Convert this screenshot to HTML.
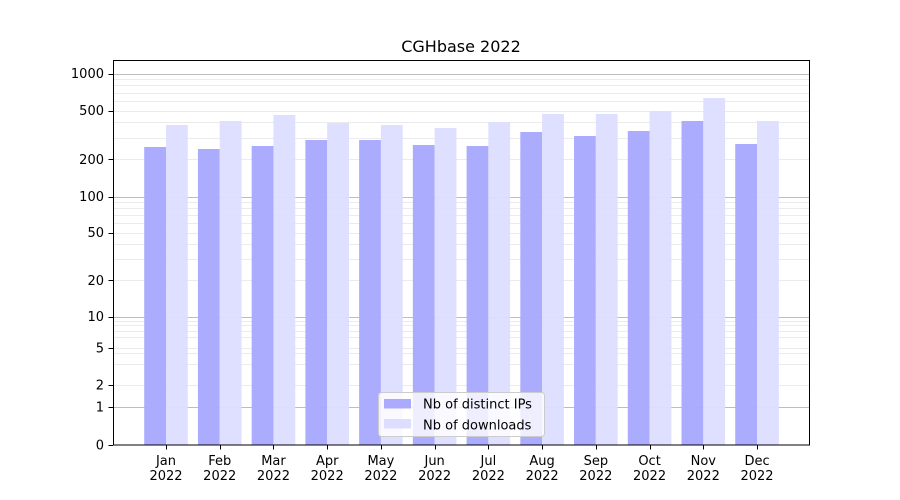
<!DOCTYPE html>
<html><head><meta charset="utf-8"><style>
html,body{margin:0;padding:0;background:#fff;}
svg{display:block;font-family:"DejaVu Sans","Liberation Sans",sans-serif;}
</style></head><body>
<svg id="s" width="900" height="500" viewBox="0 0 900 500" xmlns="http://www.w3.org/2000/svg">
<rect width="900" height="500" fill="#fff"/>
<g id="grid"></g>
<g id="bars"></g>
<rect x="113.5" y="60.5" width="696" height="384.5" fill="none" stroke="#000" stroke-width="1"/>
<g id="ticks" font-size="13" fill="#000"></g>
<text x="461" y="52" font-size="16" text-anchor="middle">CGHbase 2022</text>
<g>
<rect x="378.5" y="392.5" width="166" height="44" rx="3" fill="#fff" fill-opacity="0.8" stroke="#ccc"/>
<rect x="384" y="399" width="27" height="9.5" fill="#aaaaff"/>
<rect x="384" y="419" width="27" height="9.5" fill="#ddddff"/>
<text x="423" y="408.5" font-size="13">Nb of distinct IPs</text>
<text x="423" y="429.5" font-size="13">Nb of downloads</text>
</g>
</svg>
<script>
const NS="http://www.w3.org/2000/svg";
function el(p,t,a,txt){const e=document.createElementNS(NS,t);for(const k in a)e.setAttribute(k,a[k]);if(txt!=null)e.textContent=txt;p.appendChild(e);return e;}
function y(v){
 if(v<=0)return 445;
 if(v<=1)return 445-38*v;
 if(v<=10){const m={1:407,2:385,5:348,10:316.5};if(m[v])return m[v];return 407-Math.log10(v)*90.5*(1+0.0);}
 if(v<=100)return 316.5-Math.log10(v/10)*120;
 return 196.5-Math.log10(v/100)*123;
}
const g=document.getElementById('grid');
// minor
const minors=[];
for(let d of [1,10,100])for(let k=2;k<=9;k++)minors.push(k*d);
minors.forEach(v=>{const yy=Math.round(y(v))+0.5;el(g,'line',{x1:113,x2:810,y1:yy,y2:yy,stroke:'#ebebeb','stroke-width':1});});
[1,10,100,1000].forEach(v=>{const yy=Math.round(y(v))+0.5;el(g,'line',{x1:113,x2:810,y1:yy,y2:yy,stroke:'#bdbdbd','stroke-width':1});});
// bars (pixel tops measured)
const ip=[147,149,146,140,140,145,146,132,136,131,121,144];
const dl=[125,121,115,123,125,128,122,114,114,111,98,121];
const b=document.getElementById('bars');
const months=['Jan','Feb','Mar','Apr','May','Jun','Jul','Aug','Sep','Oct','Nov','Dec'];
const tk=document.getElementById('ticks');
for(let i=0;i<12;i++){
 const c=166+i*53.73;
 el(b,'rect',{x:c-21.8,y:ip[i],width:21.8,height:445-ip[i],fill:'#aaaaff','fill-opacity':0.98});
 el(b,'rect',{x:c,y:dl[i],width:21.8,height:445-dl[i],fill:'#ddddff','fill-opacity':0.95});
 const cx=Math.round(c)+0.5;
 el(tk,'line',{x1:cx,x2:cx,y1:445,y2:449.5,stroke:'#000'});
 el(tk,'text',{x:c,y:465,'text-anchor':'middle'},months[i]);
 el(tk,'text',{x:c,y:480,'text-anchor':'middle'},'2022');
}
[[0,445],[1,y(1)],[2,y(2)],[5,y(5)],[10,y(10)],[20,y(20)],[50,y(50)],[100,y(100)],[200,y(200)],[500,y(500)],[1000,y(1000)]].forEach(([v,yy])=>{
 const r=Math.round(yy)+0.5;
 el(tk,'line',{x1:108.5,x2:113,y1:r,y2:r,stroke:'#000'});
 el(tk,'text',{x:104,y:yy+4.5,'text-anchor':'end'},String(v));
});
</script>
</body></html>
